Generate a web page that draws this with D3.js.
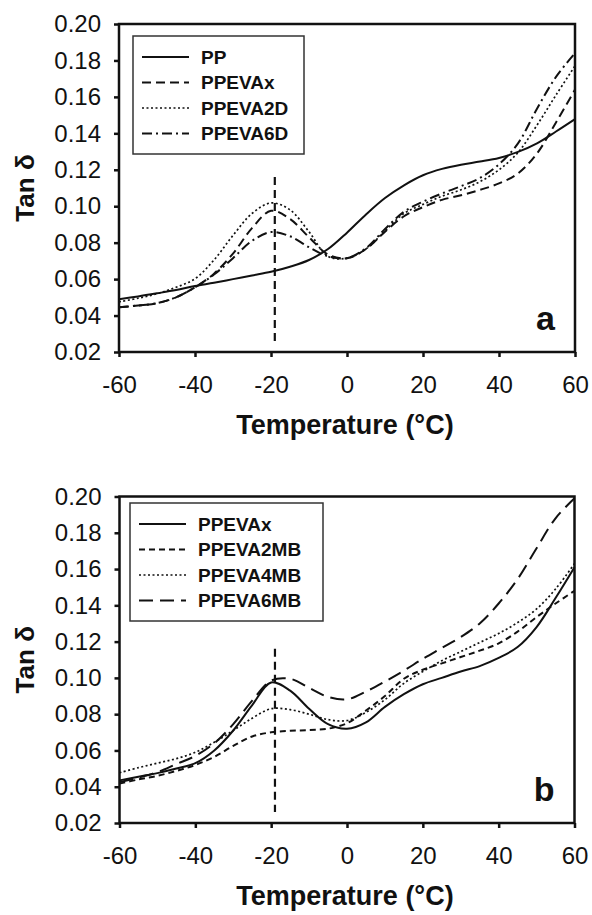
<!DOCTYPE html>
<html>
<head>
<meta charset="utf-8">
<script src="https://d3js.org/d3.v7.min.js"></script>
<style>
	body { margin: 0; background: #fff; }
	text { font-family: Arial, "Liberation Sans", sans-serif; fill: #111; }
</style>
</head>
<body>
<svg id="chart" width="592" height="915"></svg>
<script>
	// temperatures (°C) shared by every curve
	var temps = [ -60, -55, -50, -45, -40, -35, -30, -25, -20, -15, -10, -5, 0, 5, 10, 15, 20, 25, 30, 35, 40, 45, 50, 55, 60 ];

	// panel a
	var ppA = [ 0.049, 0.0505, 0.0522, 0.054, 0.0562, 0.058, 0.060, 0.062, 0.064, 0.0668, 0.0705, 0.0765, 0.0855, 0.0955, 0.1045, 0.1115, 0.117, 0.1205, 0.1228, 0.1245, 0.1265, 0.1298, 0.1345, 0.141, 0.1478 ];
	var ppevaxA = [ 0.0445, 0.0455, 0.0468, 0.050, 0.0555, 0.063, 0.074, 0.088, 0.0975, 0.093, 0.083, 0.0735, 0.0715, 0.0765, 0.086, 0.0945, 0.0995, 0.1035, 0.106, 0.109, 0.1125, 0.118, 0.129, 0.146, 0.164 ];
	var ppeva2dA = [ 0.0475, 0.0495, 0.052, 0.0555, 0.0602, 0.0705, 0.084, 0.096, 0.1018, 0.098, 0.086, 0.0725, 0.0715, 0.0765, 0.0865, 0.096, 0.101, 0.1055, 0.109, 0.1135, 0.120, 0.1295, 0.1445, 0.161, 0.177 ];
	var ppeva6dA = [ 0.0445, 0.0455, 0.0468, 0.050, 0.0555, 0.0625, 0.0715, 0.081, 0.0858, 0.0835, 0.0775, 0.0725, 0.0715, 0.077, 0.0875, 0.097, 0.1025, 0.107, 0.111, 0.1155, 0.123, 0.1345, 0.1535, 0.171, 0.184 ];

	// panel b
	var ppevaxB = [ 0.0435, 0.0455, 0.0475, 0.050, 0.053, 0.060, 0.071, 0.085, 0.0975, 0.093, 0.083, 0.0745, 0.072, 0.0755, 0.084, 0.091, 0.0965, 0.100, 0.1035, 0.1065, 0.111, 0.117, 0.128, 0.144, 0.161 ];
	var ppeva2mbB = [ 0.0417, 0.044, 0.046, 0.0487, 0.052, 0.0565, 0.0625, 0.0677, 0.070, 0.0708, 0.0712, 0.072, 0.075, 0.082, 0.090, 0.0995, 0.1045, 0.108, 0.1115, 0.115, 0.119, 0.1255, 0.1335, 0.141, 0.148 ];
	var ppeva4mbB = [ 0.0477, 0.0505, 0.053, 0.0555, 0.059, 0.0645, 0.071, 0.0778, 0.083, 0.0825, 0.080, 0.077, 0.0765, 0.081, 0.088, 0.097, 0.1035, 0.1095, 0.1145, 0.1195, 0.1245, 0.1305, 0.138, 0.149, 0.163 ];
	var ppeva6mbB = [ 0.0425, 0.045, 0.048, 0.0525, 0.057, 0.064, 0.0745, 0.0875, 0.0985, 0.0995, 0.0945, 0.0895, 0.0882, 0.0925, 0.098, 0.104, 0.1105, 0.1165, 0.1225, 0.130, 0.141, 0.1545, 0.1715, 0.188, 0.199 ];

	var xTicks = [ -60, -40, -20, 0, 20, 40, 60 ];
	var yTicks = [ 0.02, 0.04, 0.06, 0.08, 0.10, 0.12, 0.14, 0.16, 0.18, 0.20 ];

	// glass transition marker
	var tgTemp = -19;
	var tgSpan = [ 0.026, 0.116 ];

	var lineStyles = {
		solid : null,
		dashed : "9,5",
		dotted : "2,2.5",
		dashdot : "10,4,2,4",
		shortdash : "6,4",
		longdash : "14,7"
	};

	var panels = [ {
		tag : "a",
		box : { top : 24, bottom : 352, left : 119, right : 575 },
		legendBox : { x : 133, y : 36, w : 171, h : 118 },
		series : [ { label : "PP", values : ppA, style : "solid" },
				{ label : "PPEVAx", values : ppevaxA, style : "dashed" },
				{ label : "PPEVA2D", values : ppeva2dA, style : "dotted" },
				{ label : "PPEVA6D", values : ppeva6dA, style : "dashdot" } ]
	}, {
		tag : "b",
		box : { top : 496.5, bottom : 823, left : 119.5, right : 574.5 },
		legendBox : { x : 130, y : 503, w : 193, h : 118 },
		series : [ { label : "PPEVAx", values : ppevaxB, style : "solid" },
				{ label : "PPEVA2MB", values : ppeva2mbB, style : "shortdash" },
				{ label : "PPEVA4MB", values : ppeva4mbB, style : "dotted" },
				{ label : "PPEVA6MB", values : ppeva6mbB, style : "longdash" } ]
	} ];

	var svg = d3.select("#chart");

	var drawPanel = function(p) {
		var b = p.box;
		var x = d3.scaleLinear().domain([ -60, 60 ]).range([ b.left, b.right ]);
		var y = d3.scaleLinear().domain([ 0.02, 0.20 ]).range([ b.bottom, b.top ]);
		var g = svg.append("g").attr("class", "panel-" + p.tag);

		// axes (plain hyphen for negatives, like the original)
		var yAxis = g.append("g").attr("transform", "translate(" + b.left + ",0)")//
		.call(d3.axisLeft(y).tickValues(yTicks).tickFormat(function(d) {
			return d.toFixed(2);
		}).tickSize(5).tickPadding(13));
		var xAxis = g.append("g").attr("transform", "translate(0," + b.bottom + ")")//
		.call(d3.axisBottom(x).tickValues(xTicks).tickFormat(function(d) {
			return String(d);
		}).tickSize(5).tickPadding(19));
		[ yAxis, xAxis ].forEach(function(a) {
			a.select(".domain").remove();
			a.selectAll(".tick line").attr("stroke", "#111").attr("stroke-width", 2.5);
			a.selectAll(".tick text").attr("font-size", 24).attr("fill", "#222")//
			.style("font-family", "Arial, 'Liberation Sans', sans-serif");
		});

		// curves
		var line = d3.line().x(function(d) {
			return x(d[0]);
		}).y(function(d) {
			return y(d[1]);
		}).curve(d3.curveCatmullRom.alpha(0.5));

		p.series.forEach(function(s) {
			g.append("path").datum(d3.zip(temps, s.values))//
			.attr("d", line)//
			.attr("fill", "none")//
			.attr("stroke", "#111")//
			.attr("stroke-width", s.style == "dotted" ? 1.7 : 2)//
			.attr("stroke-dasharray", lineStyles[s.style]);
		});

		// Tg marker
		g.append("path").datum([ [ tgTemp, tgSpan[1] ], [ tgTemp, tgSpan[0] ] ])//
		.attr("d", d3.line().x(function(d) {
			return x(d[0]);
		}).y(function(d) {
			return y(d[1]);
		}))//
		.attr("stroke", "#111").attr("stroke-width", 2.2).attr("stroke-dasharray", "8,5");

		// frame
		g.append("rect").attr("x", b.left).attr("y", b.top)//
		.attr("width", b.right - b.left).attr("height", b.bottom - b.top)//
		.attr("fill", "none").attr("stroke", "#111").attr("stroke-width", 2.5);

		// legend
		var lb = p.legendBox;
		var leg = g.append("g").attr("transform", "translate(" + lb.x + "," + lb.y + ")");
		leg.append("rect").attr("width", lb.w).attr("height", lb.h)//
		.attr("fill", "#fff").attr("stroke", "#333").attr("stroke-width", 1.5);
		var rows = leg.selectAll(".row").data(p.series).enter().append("g")//
		.attr("transform", function(d, i) {
			return "translate(0," + (21 + i * 25.5) + ")";
		});
		rows.append("line").attr("x1", 9).attr("x2", 56)//
		.attr("stroke", "#111")//
		.attr("stroke-width", function(d) {
			return d.style == "dotted" ? 1.7 : 2;
		})//
		.attr("stroke-dasharray", function(d) {
			return lineStyles[d.style];
		});
		rows.append("text").attr("x", 68).attr("dy", "0.36em")//
		.attr("font-size", 19).attr("font-weight", "bold")//
		.text(function(d) {
			return d.label;
		});

		// panel letter
		g.append("text").attr("x", b.right - 20).attr("y", b.bottom - 22)//
		.attr("text-anchor", "end").attr("font-size", 34).attr("font-weight", "bold")//
		.text(p.tag);

		// axis titles
		g.append("text").attr("x", (b.left + b.right) / 2 - 2).attr("y", b.bottom + 82)//
		.attr("text-anchor", "middle").attr("font-size", 27).attr("font-weight", "bold")//
		.text("Temperature (°C)");
		g.append("text")//
		.attr("transform", "translate(34," + ((b.top + b.bottom) / 2) + ") rotate(-90)")//
		.attr("text-anchor", "middle").attr("font-size", 26).attr("font-weight", "bold")//
		.text("Tan δ");
	};

	panels.forEach(drawPanel);
</script>
</body>
</html>
